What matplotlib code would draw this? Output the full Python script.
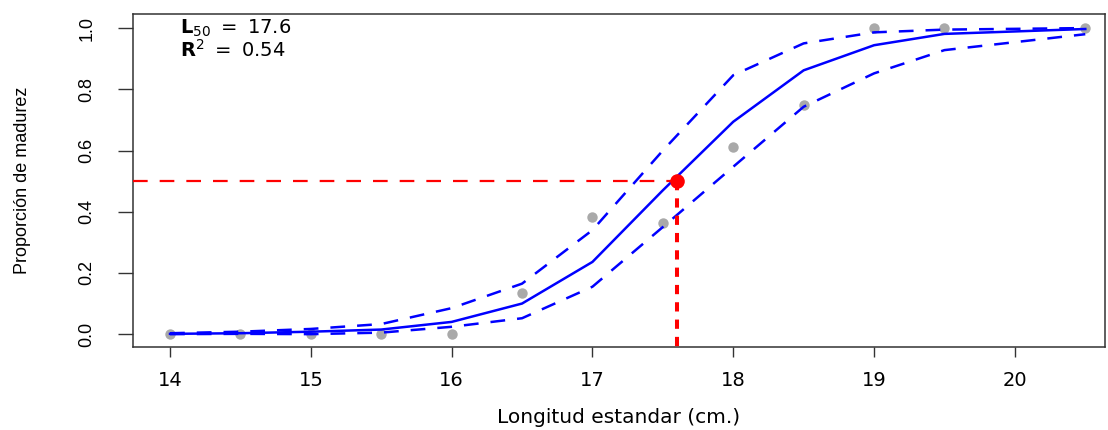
import matplotlib
matplotlib.use("Agg")
import matplotlib.pyplot as plt

plt.rcParams['font.family'] = ['DejaVu Sans']
plt.rcParams['mathtext.fontset'] = 'dejavusans'

# Data
lengths = [14, 14.5, 15, 15.5, 16, 16.5, 17, 17.5, 18, 18.5, 19, 19.5, 20.5]
observed = [0.0, 0.0, 0.0, 0.0, 0.0, 0.135, 0.384, 0.362, 0.612, 0.75, 1.0, 1.0, 1.0]
fitted = [0.001, 0.003, 0.008, 0.015, 0.04, 0.10, 0.236, 0.47, 0.694, 0.862, 0.944, 0.981, 0.997]
lower = [0.0, 0.001, 0.0, 0.005, 0.024, 0.052, 0.155, 0.35, 0.547, 0.743, 0.852, 0.928, 0.98]
upper = [0.003, 0.008, 0.017, 0.033, 0.085, 0.165, 0.34, 0.60, 0.846, 0.95, 0.986, 0.995, 1.0]
L50 = 17.6
R2 = 0.54
xticks = [14, 15, 16, 17, 18, 19, 20]
yticks = [0.0, 0.2, 0.4, 0.6, 0.8, 1.0]

fig = plt.figure(figsize=(11.08, 4.30), dpi=100)
ax = fig.add_axes([133/1108, 1-347/430, (1105-133)/1108, (347-14)/430])

ax.plot(lengths, observed, 'o', color='#a9a9a9', ms=7.5, mec='none', zorder=2)
ax.plot(lengths, fitted, '-', color='#0000ff', lw=1.8, zorder=3)
ax.plot(lengths, lower, '--', color='#0000ff', lw=1.8, dashes=(5.9, 4.8), zorder=3)
ax.plot(lengths, upper, '--', color='#0000ff', lw=1.8, dashes=(5.9, 4.8), zorder=3)

xmin, xmax = 13.737, 20.64
ymin, ymax = -0.042, 1.046
ax.plot([xmin, L50], [0.5, 0.5], '-', color='#ff0000', lw=1.6, dashes=(6.6, 5.4), zorder=4)
ax.plot([L50, L50], [0.5, ymin], '-', color='#ff0000', lw=2.9, dashes=(2.3, 2.0), zorder=4)
ax.plot([L50], [0.5], 'o', color='#ff0000', ms=10.5, mec='none', zorder=5)

ax.set_xlim(xmin, xmax)
ax.set_ylim(ymin, ymax)
ax.set_xticks(xticks)
ax.set_xticklabels([str(t) for t in xticks])
ax.set_yticks(yticks)
ax.set_yticklabels([f"{t:.1f}" for t in yticks], rotation=90, va='center',
                   family=['Liberation Sans', 'DejaVu Sans'])
ax.tick_params(axis='x', length=7.5, width=1, color='#333333', labelsize=14, pad=10)
ax.tick_params(axis='y', length=11, width=1, color='#333333', labelsize=13, pad=16)
for s in ax.spines.values():
    s.set_color('#333333')
    s.set_linewidth(1.1)

ax.set_xlabel('Longitud estandar (cm.)', fontsize=14.5, labelpad=13)
ax.set_ylabel('Proporción de madurez', fontsize=13, labelpad=34,
              family=['Liberation Sans', 'DejaVu Sans'])

ax.text(14.07, 1.0, r'$\mathbf{L}_{50}\ =\ 17.6$', fontsize=14, va='center', ha='left')
ax.text(14.07, 0.93, r'$\mathbf{R}^{2}\ =\ 0.54$', fontsize=14, va='center', ha='left')

fig.savefig('out.png', dpi=100)
